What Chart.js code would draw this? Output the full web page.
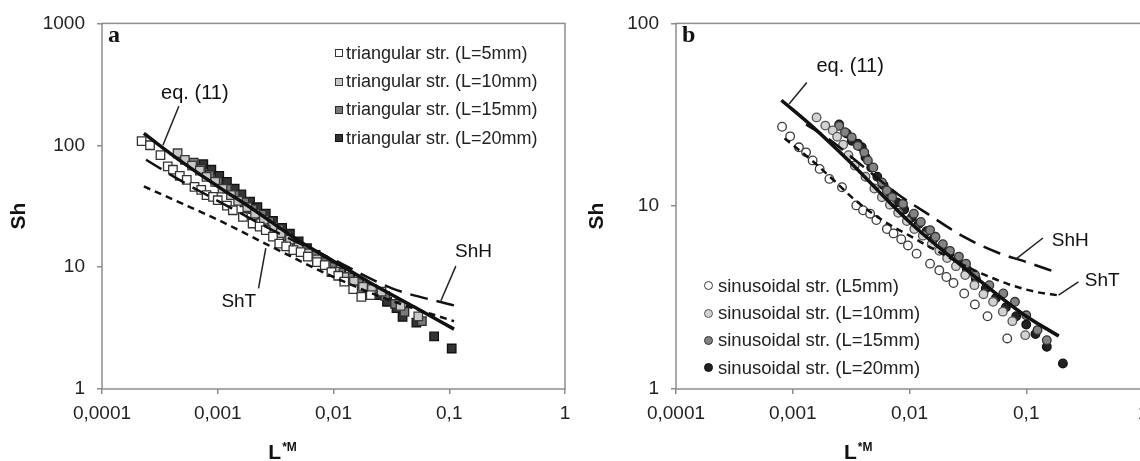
<!DOCTYPE html>
<html>
<head>
<meta charset="utf-8">
<script src="https://cdn.jsdelivr.net/npm/chart.js@4.4.1/dist/chart.umd.min.js"></script>
<style>
  html, body { margin: 0; padding: 0; width: 1140px; height: 461px; overflow: hidden; background: #fff; }
  .panel { position: absolute; top: 0; width: 580px; height: 461px; }
  #panelA { left: 0; }
  #panelB { left: 580px; }
  canvas { display: block; }
  .legend { position: absolute; font-family: "Liberation Sans", Arial, sans-serif; color: #222; }
  .legend .row { display: flex; align-items: center; white-space: nowrap; }
  .legend .mk { display: inline-block; box-sizing: border-box; }
</style>
</head>
<body>
<div class="panel" id="panelA">
  <canvas id="chartA" width="580" height="461"></canvas>
  <div class="legend" id="legendA" style="left:335px; top:39px; font-size:18px;"></div>
</div>
<div class="panel" id="panelB">
  <canvas id="chartB" width="580" height="461"></canvas>
  <div class="legend" id="legendB" style="left:124px; top:272px; font-size:18.5px;"></div>
</div>
<script>
// axis ticks
var xTicks = [0.0001, 0.001, 0.01, 0.1, 1];
var yTicksA = [1, 10, 100, 1000];
var yTicksB = [1, 10, 100];

// panel a - triangular structures (L*M vs Sh)
var seriesA = ["triangular str. (L=5mm)", "triangular str. (L=10mm)", "triangular str. (L=15mm)", "triangular str. (L=20mm)"];
var a5x = [0.00022, 0.00026, 0.00032, 0.00037, 0.00041, 0.00047, 0.00054, 0.00063, 0.00072, 0.0008, 0.00091, 0.001, 0.0012, 0.00135, 0.00165, 0.002, 0.0023, 0.0026, 0.003, 0.0034, 0.0039, 0.0045, 0.0052, 0.006, 0.0072, 0.0084, 0.0096, 0.011, 0.0124, 0.0148, 0.0174, 0.021];
var a5y = [108, 100, 83, 67, 63, 56, 52, 45.5, 43, 39, 37.7, 35.4, 32, 29.3, 25.8, 22.8, 21.5, 20.1, 17.8, 15.6, 14.8, 13.8, 13.3, 12.2, 11, 10.4, 9.1, 8.5, 7.6, 6.6, 5.7, 5.9];
var a10x = [0.00045, 0.00052, 0.0006, 0.0007, 0.0008, 0.00095, 0.0011, 0.0013, 0.0015, 0.0018, 0.0021, 0.0025, 0.003, 0.0035, 0.0042, 0.005, 0.006, 0.0072, 0.0086, 0.0103, 0.0124, 0.015, 0.018, 0.0215, 0.026, 0.038, 0.054];
var a10y = [86, 76, 68, 62, 55, 50, 44, 39, 35, 31, 27.5, 24.5, 21.5, 19, 16.8, 14.6, 13, 11.6, 10.4, 9.2, 8.3, 7.6, 6.9, 6.6, 6.3, 4.8, 3.95];
var a15x = [0.00062, 0.00072, 0.00085, 0.001, 0.0012, 0.0014, 0.0017, 0.002, 0.0024, 0.0028, 0.0034, 0.004, 0.0048, 0.0057, 0.0068, 0.0081, 0.0097, 0.0115, 0.0137, 0.0165, 0.0195, 0.023, 0.028, 0.034, 0.041, 0.058];
var a15y = [72, 64, 57, 50, 44, 39, 34, 30, 27, 23.5, 20.5, 18, 15.8, 14, 12.5, 11, 10, 9, 8.2, 7.4, 6.8, 6.3, 5.8, 5.0, 4.3, 3.6];
var a20x = [0.00075, 0.00088, 0.00103, 0.0012, 0.0014, 0.0016, 0.0019, 0.0022, 0.0026, 0.003, 0.0036, 0.0042, 0.005, 0.0059, 0.007, 0.0083, 0.0098, 0.0117, 0.014, 0.0167, 0.02, 0.024, 0.029, 0.035, 0.0395, 0.052, 0.074, 0.105];
var a20y = [70, 63, 56, 50, 44, 39.5, 34.5, 31, 27.5, 24, 21, 18.8, 16.3, 14.3, 12.6, 11.2, 10.1, 9.1, 8.1, 7.3, 6.5, 5.9, 5.2, 4.6, 3.9, 3.5, 2.7, 2.15];
var aEqX = [0.00023, 0.0005, 0.001, 0.002, 0.005, 0.01, 0.02, 0.05, 0.11];
var aEqY = [125, 72, 46, 30, 16.5, 11.2, 7.6, 4.7, 3.1];
var aShTX = [0.00023, 0.0005, 0.001, 0.003, 0.01, 0.03, 0.11];
var aShTY = [46, 33, 24.5, 14.5, 8.3, 5.4, 3.6];
var aShHX = [0.00024, 0.0005, 0.001, 0.003, 0.01, 0.032, 0.11];
var aShHY = [76, 50, 35, 20, 11.5, 6.7, 4.85];

// panel b - sinusoidal structures
var seriesB = ["sinusoidal str. (L5mm)", "sinusoidal str. (L=10mm)", "sinusoidal str. (L=15mm)", "sinusoidal str. (L=20mm)"];
var b5x = [0.00081, 0.00095, 0.00113, 0.0013, 0.00148, 0.0017, 0.00206, 0.00264, 0.0035, 0.004, 0.0046, 0.0052, 0.0064, 0.0073, 0.0085, 0.0097, 0.0115, 0.015, 0.018, 0.0207, 0.0238, 0.0294, 0.0363, 0.0466, 0.0687];
var b5y = [27.2, 24.1, 21, 19.7, 17.8, 16, 14.1, 12.7, 10.1, 9.5, 9.1, 8.4, 7.5, 7.1, 6.6, 6.1, 5.5, 4.85, 4.46, 4.1, 3.8, 3.33, 2.9, 2.5, 1.89];
var b10x = [0.0016, 0.0019, 0.0022, 0.0024, 0.0027, 0.003, 0.0034, 0.0042, 0.005, 0.0058, 0.0068, 0.008, 0.0095, 0.011, 0.013, 0.0155, 0.018, 0.021, 0.025, 0.03, 0.036, 0.043, 0.052, 0.063, 0.076, 0.098];
var b10y = [30.6, 27.6, 26, 24, 21.7, 19, 16.7, 14.5, 12.5, 11.2, 10.2, 9.2, 8.3, 7.5, 6.9, 6.2, 5.7, 5.2, 4.7, 4.2, 3.7, 3.3, 3.0, 2.65, 2.35, 1.97];
var b15x = [0.0025, 0.0028, 0.0032, 0.0036, 0.0041, 0.0044, 0.0049, 0.0058, 0.0064, 0.0071, 0.0088, 0.0109, 0.0125, 0.015, 0.0167, 0.0193, 0.0222, 0.0265, 0.0305, 0.0364, 0.0483, 0.0636, 0.08, 0.1, 0.125, 0.15];
var b15y = [27.5, 25.4, 23.8, 21.4, 19.7, 17.8, 16.3, 13.5, 12.2, 11.2, 10.3, 9.1, 8.2, 7.4, 6.8, 6.2, 5.7, 5.3, 4.85, 4.2, 3.7, 3.33, 3.0, 2.53, 2.1, 1.85];
var b20x = [0.0025, 0.0029, 0.0032, 0.0036, 0.0039, 0.0042, 0.0047, 0.0053, 0.006, 0.0068, 0.0078, 0.009, 0.0105, 0.012, 0.014, 0.016, 0.019, 0.022, 0.026, 0.031, 0.037, 0.045, 0.055, 0.067, 0.082, 0.1, 0.12, 0.15, 0.206];
var b20y = [28, 25, 22.8, 22, 21, 18.5, 16.3, 14.5, 13, 11.8, 10.5, 9.6, 8.7, 8, 7.3, 6.6, 6.0, 5.5, 5.0, 4.5, 4.0, 3.55, 3.15, 2.8, 2.5, 2.25, 2.0, 1.7, 1.38];
var bEqX = [0.0008, 0.0015, 0.003, 0.01, 0.03, 0.1, 0.19];
var bEqY = [38, 27, 17.8, 8.2, 4.55, 2.5, 1.95];
var bShTX = [0.00085, 0.0015, 0.0025, 0.0033, 0.006, 0.01, 0.02, 0.035, 0.07, 0.12, 0.19];
var bShTY = [23.5, 17.5, 13, 11, 8.3, 6.9, 5.4, 4.5, 3.75, 3.4, 3.25];
var bShHX = [0.0013, 0.002, 0.004, 0.008, 0.015, 0.028, 0.056, 0.1, 0.19];
var bShHY = [28, 23.5, 16.5, 11.6, 8.9, 6.9, 5.6, 4.95, 4.3];

Chart.defaults.font.family = "'Liberation Sans', Arial, sans-serif";
Chart.defaults.color = "#222";

function pts(xs, ys) {
  return xs.map(function (x, i) { return { x: x, y: ys[i] }; });
}
function fmt(v) {
  return String(v).replace(".", ",");
}

// frame, panel letter, labels with leader lines, axis titles
var panelDecor = {
  id: "panelDecor",
  beforeDatasetsDraw: function (chart) {
    var ctx = chart.ctx, ca = chart.chartArea;
    ctx.save();
    ctx.strokeStyle = "#8d8d8d";
    ctx.lineWidth = 1.5;
    ctx.strokeRect(ca.left, ca.top, ca.right - ca.left, ca.bottom - ca.top);
    ctx.restore();
  },
  afterDatasetsDraw: function (chart, args, o) {
    var ctx = chart.ctx, ca = chart.chartArea, sx = chart.scales.x, sy = chart.scales.y;
    ctx.save();
    ctx.fillStyle = "#111";
    ctx.font = "bold 24px 'Liberation Serif'";
    ctx.textAlign = "left";
    ctx.textBaseline = "alphabetic";
    ctx.fillText(o.letter, ca.left + 6, ca.top + 19);

    ctx.strokeStyle = "#222";
    ctx.lineWidth = 1.5;
    o.notes.forEach(function (n) {
      ctx.beginPath();
      ctx.moveTo(sx.getPixelForValue(n.from[0]), sy.getPixelForValue(n.from[1]));
      ctx.lineTo(sx.getPixelForValue(n.to[0]), sy.getPixelForValue(n.to[1]));
      ctx.stroke();
      ctx.font = n.size + "px 'Liberation Sans'";
      ctx.textAlign = "center";
      ctx.textBaseline = "middle";
      ctx.fillText(n.text, sx.getPixelForValue(n.at[0]), sy.getPixelForValue(n.at[1]));
    });

    // x title: L*M with small raised *M
    ctx.textAlign = "left";
    ctx.textBaseline = "alphabetic";
    ctx.font = "bold 21px 'Liberation Sans'";
    var wL = ctx.measureText("L").width;
    ctx.font = "bold 12px 'Liberation Sans'";
    var wM = ctx.measureText("*M").width;
    var cx = ca.left + 0.39 * (ca.right - ca.left);
    var x0 = cx - (wL + wM + 1) / 2;
    ctx.font = "bold 21px 'Liberation Sans'";
    ctx.fillText("L", x0, chart.height - 2);
    ctx.font = "bold 12px 'Liberation Sans'";
    ctx.fillText("*M", x0 + wL + 1, chart.height - 10);

    // y title
    ctx.translate(o.yTitleX, (ca.top + ca.bottom) / 2 + 10);
    ctx.rotate(-Math.PI / 2);
    ctx.textAlign = "center";
    ctx.textBaseline = "middle";
    ctx.font = "bold 21px 'Liberation Sans'";
    ctx.fillText("Sh", 0, 0);
    ctx.restore();
  }
};

function scalesFor(yMin, yMax, yTicks, yWidth) {
  return {
    x: {
      type: "logarithmic", min: 0.0001, max: 1,
      afterBuildTicks: function (s) { s.ticks = xTicks.map(function (v) { return { value: v }; }); },
      afterFit: function (s) { s.height = 72; },
      ticks: { callback: fmt, font: { size: 19 }, color: "#222", padding: 8, maxRotation: 0, autoSkip: false },
      grid: { drawOnChartArea: false, tickLength: 5, color: "#8d8d8d", lineWidth: 1.5 },
      border: { display: false }
    },
    y: {
      type: "logarithmic", min: yMin, max: yMax,
      afterBuildTicks: function (s) { s.ticks = yTicks.map(function (v) { return { value: v }; }); },
      afterFit: function (s) { s.width = yWidth; },
      ticks: { callback: fmt, font: { size: 19 }, color: "#222", padding: 12, autoSkip: false },
      grid: { drawOnChartArea: false, tickLength: 5, color: "#8d8d8d", lineWidth: 1.5 },
      border: { display: false }
    }
  };
}

function curve(label, xs, ys, dash, width) {
  return {
    label: label, data: pts(xs, ys), showLine: true, pointRadius: 0,
    borderColor: "#111", borderWidth: width, borderDash: dash,
    cubicInterpolationMode: "monotone", order: 0
  };
}
function marks(label, xs, ys, style, r, fill, edge) {
  return {
    label: label, data: pts(xs, ys), pointStyle: style, pointRadius: r,
    backgroundColor: fill, borderColor: edge, borderWidth: 1.3, order: 1
  };
}

var chartA = new Chart(document.getElementById("chartA"), {
  type: "scatter",
  data: {
    datasets: [
      curve("eq. (11)", aEqX, aEqY, [], 3.5),
      curve("ShT", aShTX, aShTY, [7, 5], 2.5),
      curve("ShH", aShHX, aShHY, [18, 9], 2.5),
      marks(seriesA[0], a5x, a5y, "rect", 6, "#ffffff", "#333"),
      marks(seriesA[1], a10x, a10y, "rect", 6, "#c8c8c8", "#3a3a3a"),
      marks(seriesA[2], a15x, a15y, "rect", 6, "#7a7a7a", "#2a2a2a"),
      marks(seriesA[3], a20x, a20y, "rect", 6, "#333333", "#111")
    ]
  },
  options: {
    responsive: false,
    animation: false,
    devicePixelRatio: 1,
    events: [],
    layout: { padding: { left: 0, top: 23, right: 15, bottom: 0 } },
    scales: scalesFor(1, 1000, yTicksA, 102),
    plugins: {
      legend: { display: false },
      tooltip: { enabled: false },
      panelDecor: {
        letter: "a", yTitleX: 19,
        notes: [
          { text: "eq. (11)", size: 20, at: [0.000634, 267], from: [0.000461, 209], to: [0.000336, 100] },
          { text: "ShT", size: 19, at: [0.00152, 5.2], from: [0.00225, 6.7], to: [0.0026, 14.3] },
          { text: "ShH", size: 19, at: [0.162, 13.3], from: [0.114, 10.2], to: [0.0847, 5.3] }
        ]
      }
    }
  },
  plugins: [panelDecor]
});

var chartB = new Chart(document.getElementById("chartB"), {
  type: "scatter",
  data: {
    datasets: [
      curve("eq. (11)", bEqX, bEqY, [], 3.5),
      curve("ShT", bShTX, bShTY, [7, 5], 2.5),
      curve("ShH", bShHX, bShHY, [18, 9], 2.5),
      marks(seriesB[0], b5x, b5y, "circle", 4.3, "#ffffff", "#3a3a3a"),
      marks(seriesB[1], b10x, b10y, "circle", 4.3, "#d2d2d2", "#555"),
      marks(seriesB[2], b15x, b15y, "circle", 4.3, "#838383", "#333"),
      marks(seriesB[3], b20x, b20y, "circle", 4.3, "#222222", "#111")
    ]
  },
  options: {
    responsive: false,
    animation: false,
    devicePixelRatio: 1,
    events: [],
    layout: { padding: { left: 0, top: 23, right: 17, bottom: 0 } },
    scales: scalesFor(1, 100, yTicksB, 96),
    plugins: {
      legend: { display: false },
      tooltip: { enabled: false },
      panelDecor: {
        letter: "b", yTitleX: 17,
        notes: [
          { text: "eq. (11)", size: 20, at: [0.0031, 57.8], from: [0.00132, 47.5], to: [0.00093, 36.2] },
          { text: "ShH", size: 19, at: [0.238, 6.5], from: [0.139, 6.7], to: [0.0804, 5.1] },
          { text: "ShT", size: 19, at: [0.447, 3.93], from: [0.28, 3.85], to: [0.189, 3.26] }
        ]
      }
    }
  },
  plugins: [panelDecor]
});

// html legends built from the marker datasets
function buildLegend(chart, id, round, size, gap, rowH) {
  var box = document.getElementById(id);
  chart.data.datasets.forEach(function (ds) {
    if (ds.showLine) return;
    var row = document.createElement("div");
    row.className = "row";
    row.style.height = rowH + "px";
    var mk = document.createElement("span");
    mk.className = "mk";
    mk.style.width = size + "px";
    mk.style.height = size + "px";
    mk.style.background = ds.backgroundColor;
    mk.style.border = "1.3px solid " + ds.borderColor;
    mk.style.marginRight = gap + "px";
    if (round) mk.style.borderRadius = "50%";
    row.appendChild(mk);
    row.appendChild(document.createTextNode(ds.label));
    box.appendChild(row);
  });
}
buildLegend(chartA, "legendA", false, 8, 3, 28.4);
buildLegend(chartB, "legendB", true, 9, 5, 27.4);
</script>
</body>
</html>
